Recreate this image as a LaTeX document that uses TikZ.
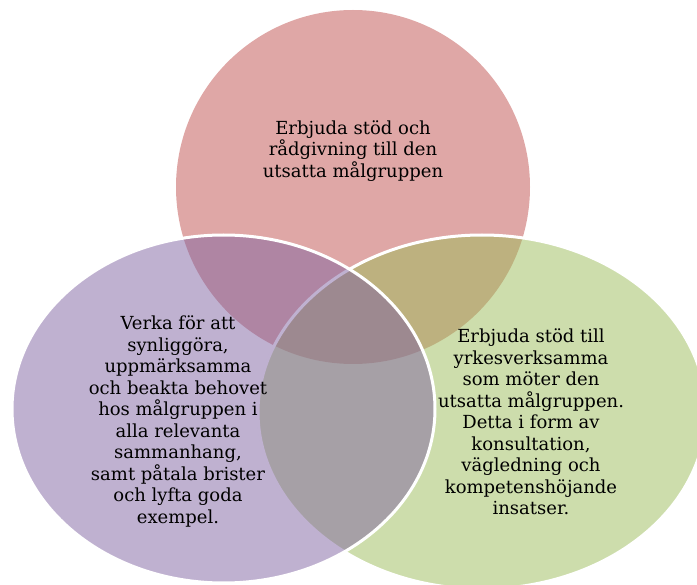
\documentclass[tikz,border=0pt]{standalone}
\usepackage{fontspec}
\setmainfont{DejaVu Serif}
\definecolor{vred}{HTML}{C0504D}
\definecolor{vpurple}{HTML}{8064A2}
\definecolor{vgreen}{HTML}{9BBB59}
\begin{document}
\begin{tikzpicture}[x=1pt,y=-1pt,
  vennset/.style={fill opacity=0.5, draw=white, draw opacity=1, line width=3pt},
  lbl/.style={align=center, font=\fontsize{18}{21.5}\selectfont, text=black, inner sep=0pt}]
\useasboundingbox (0,0) rectangle (697,585);
% top (red) set
\fill[vred, fill opacity=0.5] (353,187) ellipse [x radius=177pt, y radius=177pt];
\node[lbl] (ttop) at (353,151) {Erbjuda stöd och\\rådgivning till den\\utsatta målgruppen};
% right (green) set
\path[vennset, fill=vgreen] (482,412) ellipse [x radius=224pt, y radius=177pt];
\node[lbl] (tright) at (531,422) {Erbjuda stöd till\\yrkesverksamma\\som möter den\\utsatta målgruppen.\\Detta i form av\\konsultation,\\vägledning och\\kompetenshöjande\\insatser.};
% left (purple) set
\path[vennset, fill=vpurple] (223.5,409) ellipse [x radius=211.5pt, y radius=174pt];
\node[lbl] (tleft) at (178,421.5) {Verka för att\\synliggöra,\\uppmärksamma\\och beakta behovet\\hos målgruppen i\\alla relevanta\\sammanhang,\\samt påtala brister\\och lyfta goda\\exempel.};
\end{tikzpicture}
\end{document}
